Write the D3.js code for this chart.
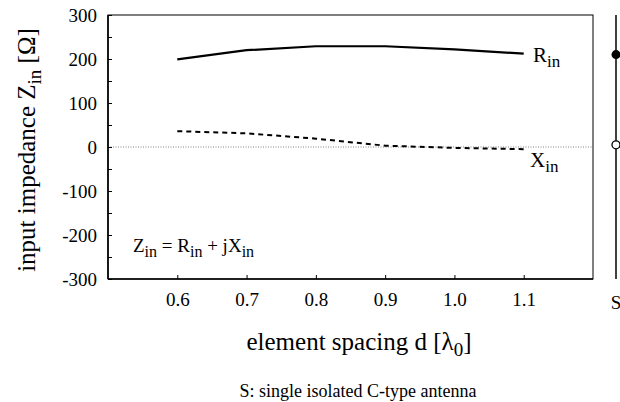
<!DOCTYPE html>
<html><head><meta charset="utf-8">
<script src="https://cdn.jsdelivr.net/npm/d3@7"></script>
<style>
body{margin:0;background:#fff;}
text{font-family:"Liberation Serif","Times New Roman",serif;fill:#000;}
</style></head>
<body>
<svg id="c" width="620" height="402"></svg>
<script>
const spacing = [0.6, 0.7, 0.8, 0.9, 1.0, 1.1];
const Rin = [199, 220, 229, 229, 222, 212];
const Xin = [36, 31, 19, 3, -2, -5];
const xTicks = [0.6, 0.7, 0.8, 0.9, 1.0, 1.1];
const yTicks = [-300, -200, -100, 0, 100, 200, 300];
const yMinor = [-250, -150, -50, 50, 150, 250];
const single = {R: 210, X: 5};

const svg = d3.select("#c");
const L = 108, R = 593, T = 15, B = 279;
const x = d3.scaleLinear().domain([0.5, 1.2]).range([L, R]);
const y = d3.scaleLinear().domain([-300, 300]).range([B, T]);

// zero dotted line
svg.append("line").attr("x1", L).attr("x2", R).attr("y1", y(0)).attr("y2", y(0))
  .attr("stroke", "#666").attr("stroke-width", 0.8).attr("stroke-dasharray", "1,1.5");

// frame
svg.append("rect").attr("x", L).attr("y", T).attr("width", R - L).attr("height", B - T)
  .attr("fill", "none").attr("stroke", "#000").attr("stroke-width", 1);
svg.append("line").attr("x1", L).attr("x2", L).attr("y1", T).attr("y2", B).attr("stroke", "#000").attr("stroke-width", 1.6);
svg.append("line").attr("x1", L).attr("x2", R).attr("y1", B).attr("y2", B).attr("stroke", "#000").attr("stroke-width", 1.6);

const fmtY = d => String(d); // hyphen-minus like the original

// y axis
const yAx = svg.append("g").attr("transform", `translate(${L},0)`)
  .call(d3.axisLeft(y).tickValues(yTicks).tickSize(-4).tickPadding(11).tickFormat(fmtY));
yAx.select(".domain").remove();
yAx.selectAll("text").style("font-size", "19px").attr("dy", "0.35em");
svg.append("g").attr("transform", `translate(${L},0)`)
  .call(d3.axisLeft(y).tickValues(yMinor).tickSize(-4).tickFormat(""))
  .call(g => g.select(".domain").remove());

// x axis
const xAx = svg.append("g").attr("transform", `translate(0,${B})`)
  .call(d3.axisBottom(x).tickValues(xTicks).tickSize(-4).tickPadding(14).tickFormat(d3.format(".1f")));
xAx.select(".domain").remove();
xAx.selectAll("text").style("font-size", "19px");

// lines
const line = d3.line().x((d, i) => x(spacing[i])).y(d => y(d));
svg.append("path").datum(Rin).attr("d", line).attr("fill", "none").attr("stroke", "#000").attr("stroke-width", 2.2);
svg.append("path").datum(Xin).attr("d", line).attr("fill", "none").attr("stroke", "#000").attr("stroke-width", 2).attr("stroke-dasharray", "5,4");

// series labels
function sub(main, s, xx, yy, size, ssize) {
  const t = svg.append("text").attr("x", xx).attr("y", yy).style("font-size", size + "px");
  t.append("tspan").text(main);
  t.append("tspan").attr("dy", 5).style("font-size", ssize + "px").text(s);
  return t;
}
sub("R", "in", 533, 62, 21, 17);
sub("X", "in", 530, 167, 21, 17);

// formula
const f = svg.append("text").attr("x", 133).attr("y", 252).style("font-size", "19px");
f.append("tspan").text("Z");
f.append("tspan").attr("dy", 5).style("font-size", "16px").text("in");
f.append("tspan").attr("dy", -5).text(" = R");
f.append("tspan").attr("dy", 5).style("font-size", "16px").text("in");
f.append("tspan").attr("dy", -5).text(" + jX");
f.append("tspan").attr("dy", 5).style("font-size", "16px").text("in");

// axis titles
const xt = svg.append("text").attr("x", 359).attr("y", 350).attr("text-anchor", "middle").style("font-size", "25px");
xt.append("tspan").text("element spacing d [λ");
xt.append("tspan").attr("dy", 6).style("font-size", "19px").text("0");
xt.append("tspan").attr("dy", -6).text("]");

const yt = svg.append("text").attr("transform", `translate(35,${(T + B) / 2 + 3}) rotate(-90)`).attr("text-anchor", "middle").style("font-size", "25px");
yt.append("tspan").text("input impedance Z");
yt.append("tspan").attr("dy", 6).style("font-size", "19px").text("in");
yt.append("tspan").attr("dy", -6).text(" [Ω]");

// single antenna panel
const sx = 616;
svg.append("line").attr("x1", sx).attr("x2", sx).attr("y1", T).attr("y2", B).attr("stroke", "#000").attr("stroke-width", 1.5);
svg.append("circle").attr("cx", sx).attr("cy", y(single.R)).attr("r", 4.5).attr("fill", "#000");
svg.append("circle").attr("cx", sx).attr("cy", y(single.X)).attr("r", 4).attr("fill", "#fff").attr("stroke", "#000").attr("stroke-width", 1.3);
svg.append("text").attr("x", sx).attr("y", 309).attr("text-anchor", "middle").style("font-size", "19px").text("S");

// caption
svg.append("text").attr("x", 358).attr("y", 397).attr("text-anchor", "middle").style("font-size", "18px").text("S: single isolated C-type antenna");
</script>
</body></html>
